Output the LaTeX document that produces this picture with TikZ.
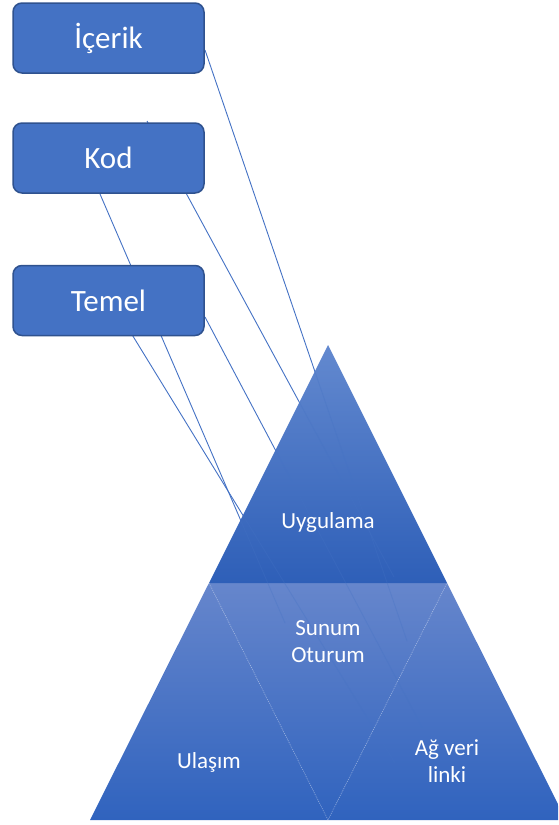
\documentclass[tikz,border=0pt]{standalone}
\usepackage{fontspec}
\setmainfont{Carlito}
\definecolor{boxblue}{HTML}{4472C4}
\definecolor{boxedge}{HTML}{2F528F}
\definecolor{linkblue}{HTML}{4472C4}
\definecolor{pyrtop}{HTML}{6389CF}
\definecolor{pyrbot}{HTML}{2E5FB8}
\definecolor{lowtop}{HTML}{6686CC}
\definecolor{lowbot}{HTML}{3063BE}
\tikzset{
  layerbox/.style={draw=boxedge, line width=1.5pt, fill=boxblue, rounded corners=9pt,
    minimum width=191pt, minimum height=70pt, inner sep=0pt, text=white,
    font=\fontsize{31}{37}\selectfont},
  link/.style={draw=linkblue, line width=0.9pt},
  seam/.style={draw=white, opacity=0.45, line width=0.6pt, dash pattern=on 1pt off 1pt},
  pyrlabel/.style={text=white, align=center, inner sep=0pt,
    font=\fontsize{23}{27}\selectfont}
}
\begin{document}
\begin{tikzpicture}[x=1pt,y=-1pt]
\useasboundingbox (0,0) rectangle (558,825);
\clip (0,0) rectangle (558,825);

% pyramid corner points
\coordinate (apex) at (328,345);
\coordinate (ml) at (209,583);
\coordinate (mr) at (447,583);
\coordinate (bl) at (90,820);
\coordinate (bm) at (328,820);
\coordinate (br) at (566,820);

% connector end points
\coordinate (aS) at (205,50);   \coordinate (aE) at (407,641);
\coordinate (bS) at (147,121);  \coordinate (bE) at (394,577);
\coordinate (dS) at (205,317);  \coordinate (dE) at (422,727);
\coordinate (eS) at (112,302);  \coordinate (eE) at (395,763);
\coordinate (fS) at (100,194);  \coordinate (fE) at (285,623);

% connectors, drawn below boxes and pyramid
\draw[link] (aS) -- (aE);
\draw[link] (bS) -- (bE);
\draw[link] (dS) -- (dE);
\draw[link] (eS) -- (eE);
\draw[link] (fS) -- (fE);

% layer boxes
\node[layerbox] (icerik) at (108.5,38) {İçerik};
\node[layerbox] (kod) at (108.5,158) {Kod};
\node[layerbox] (temel) at (108.5,300.5) {Temel};

% pyramid
\shade[top color=lowtop, bottom color=lowbot] (ml) -- (mr) -- (br) -- (bl) -- cycle;
\shade[top color=pyrtop, bottom color=pyrbot] (apex) -- (mr) -- (ml) -- cycle;

% connectors showing faintly through the pyramid
\begin{scope}
  \clip (apex) -- (br) -- (bl) -- cycle;
  \draw[link, opacity=0.3] (aS) -- (aE);
  \draw[link, opacity=0.3] (bS) -- (bE);
  \draw[link, opacity=0.3] (dS) -- (dE);
  \draw[link, opacity=0.3] (eS) -- (eE);
  \draw[link, opacity=0.3] (fS) -- (fE);
\end{scope}

% seams between the lower triangles
\draw[seam] (ml) -- (bm) -- (mr);

% layer labels
\node[pyrlabel] (uyg) at (328,522) {Uygulama};
\node[pyrlabel] (sun) at (328,642) {Sunum\\Oturum};
\node[pyrlabel] (ula) at (209,762) {Ulaşım};
\node[pyrlabel] (ag) at (447,761) {Ağ veri\\linki};
\end{tikzpicture}
\end{document}
